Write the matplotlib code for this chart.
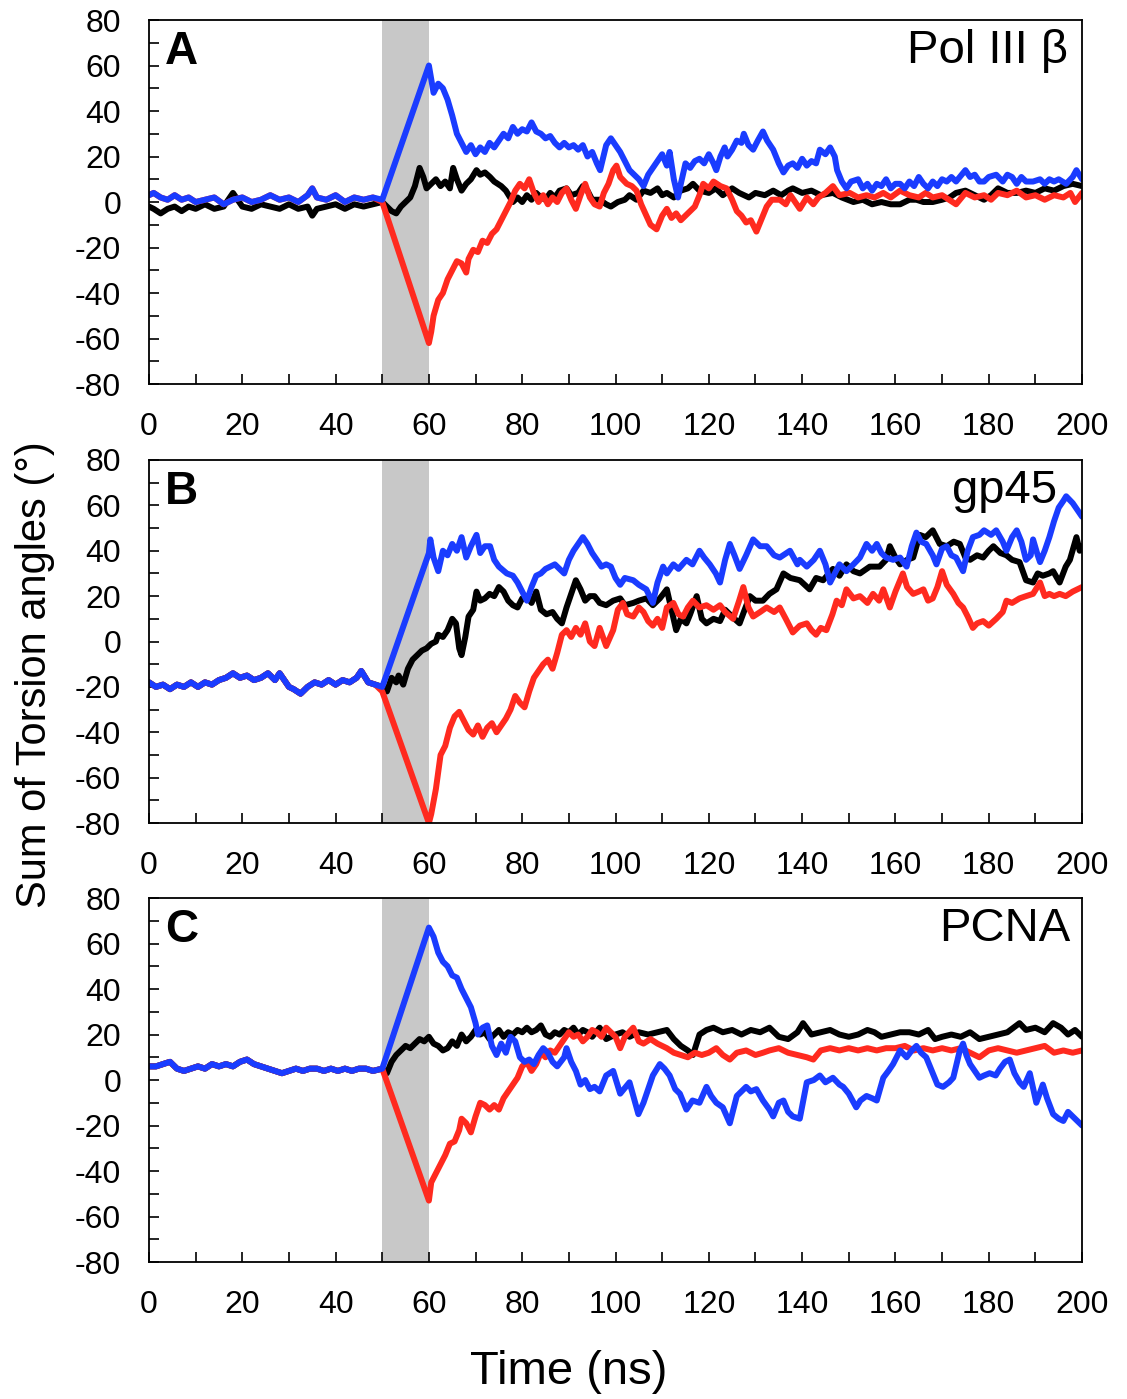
import matplotlib
matplotlib.use("Agg")
import matplotlib.pyplot as plt
from matplotlib.ticker import MultipleLocator

plt.rcParams['font.family'] = ['Liberation Sans', 'DejaVu Sans']
plt.rcParams['axes.unicode_minus'] = False

# --- data (time in ns, sum of torsion angles in degrees) ---
# panel A: Pol III beta
a_pre_t = [0, 1, 2.5, 4, 5.5, 7, 8.5, 10, 12, 14, 16, 18, 20, 22, 24, 26, 28,
           30, 32, 34, 35, 36, 38, 40, 42, 44, 46, 48]
a_pre_col = [3, 4, 2, 1, 3, 1, 2, 0, 1, 2, -1, 1, 2, 0, 1, 3, 1,
             2, 0, 3, 6, 2, 1, 3, 0, 2, 1, 2]
a_pre_black = [-2, -3, -5, -3, -2, -4, -2, -3, -1, -3, -2, 4, -2, -3, -1, -2, -3,
               -1, -3, -2, -6, -3, -2, -1, -3, -1, -2, -1]

a_black_t = [50, 51, 52, 53, 54, 55, 56, 57, 58, 58.8, 59.5, 60.5, 61.5, 62.5, 63.5, 64.5, 65.2,
             66, 67, 68, 69, 70.2, 71, 72, 73.1, 74, 75.5, 76.5, 78, 79, 80, 81, 82, 83, 84, 85,
             86, 87, 88, 89.5, 90.5, 92, 93, 94, 95, 96.6, 98, 99, 100.5, 102, 103, 104.5, 106,
             107.5, 109, 110, 111, 112.5, 114, 115.5, 116.6, 118, 120, 121.5, 123, 125, 126.5,
             128.6, 130, 132, 133.8, 135.5, 137, 138, 140, 142, 144, 146.6, 148.5, 151, 153,
             155, 157, 159, 161, 163, 164.5, 166, 168, 170, 171.6, 173, 175, 177, 179, 180.5,
             182, 184, 186, 188, 190, 192, 194, 196, 198, 200]
a_black_v = [0, -2, -4, -5, -2, 0, 2, 7, 15, 11, 6, 8, 10, 7, 9, 6, 15,
             10, 5, 8, 10, 14, 12, 13, 11, 9, 7, 5, 0, 2, 0, 3, 1, 4, 2, 1,
             4, 2, 5, 6, 3, 4, 7, 5, 1, 1, -1, -2, 0, 1, 3, 1, 5,
             4, 6, 3, 4, 2, 5, 6, 8, 5, 4, 6, 3, 6, 4,
             2, 4, 3, 5, 3, 5, 6, 4, 5, 3, 4, 2, 0, 1,
             -1, 0, -1, -1, 1, 1, 0, 0, 1, 2, 4, 5, 3, 1, 3,
             6, 4, 4, 5, 4, 6, 5, 7, 8, 7]

a_red_t = [50, 60, 60.5, 61, 62, 63, 64, 65, 66, 67, 68, 68.5, 69.5, 70.5, 71.5, 72.5, 73.5,
           74.5, 75.5, 76.5, 77.5, 78.5, 79.5, 80.5, 81.5, 82.5, 83.5, 84.5, 85.5, 86.5, 87.5,
           88.5, 89.5, 90.5, 91.5, 92.5, 93.5, 94.5, 95.5, 96.6, 97.5, 98.5, 99.5, 100.2, 101,
           102.4, 103.5, 104.5, 105.5, 106.6, 107.5, 108.8, 110, 111, 112, 113, 114, 115, 116,
           117, 118, 118.8, 120, 121, 122.5, 123.8, 125, 126, 127, 128, 129, 130.2, 131, 132.4,
           133.5, 135.2, 136.5, 137.5, 138.5, 139.5, 141, 142.4, 143.5, 145, 146.6, 148, 150.2,
           152, 153.8, 155.5, 157.4, 159, 161, 163, 165, 166.5, 168, 170, 171.5, 173, 175, 177,
           179, 180.5, 182, 184, 186, 188, 190, 192, 194, 196, 197.5, 198.5, 200]
a_red_v = [0, -62, -57, -50, -43, -40, -34, -30, -26, -27, -31, -25, -21, -22, -17, -18, -14,
           -12, -8, -4, 0, 5, 8, 6, 10, 4, 0, 3, -1, 2, 0,
           4, 6, 1, -3, 3, 8, 2, -1, -2, 4, 8, 14, 16, 11,
           8, 7, 5, -1, -6, -10, -12, -6, -3, -7, -5, -8, -6, -4,
           -2, 3, 8, 6, 9, 7, 6, 1, -4, -6, -9, -8, -13, -9, -2,
           1, 1, -1, 3, 0, -3, 2, -1, 2, 4, 7, 3, 4,
           2, 3, 2, 4, 2, 5, 3, 2, 4, 2, 3, 1, -1, 4, 2,
           3, 1, 4, 3, 5, 2, 3, 1, 3, 2, 4, 0, 4]

a_blue_t = [50, 60, 61, 62, 63, 64, 65, 66, 67, 68, 69, 70, 71, 72, 73, 74, 75, 76, 77, 78, 79,
            80, 81, 82, 83, 84, 85, 86, 87, 88, 89, 90, 91, 92, 93, 94, 95, 96, 96.7, 98, 99,
            100, 101, 102, 103, 104, 105, 106, 107, 108, 109, 110, 111, 111.6, 112.5, 113.4,
            114, 115, 116, 117, 118, 119, 120, 121, 121.6, 122.5, 123.4, 124, 125, 126, 127,
            127.5, 128.5, 129.5, 130.5, 131.6, 132.5, 133.8, 135, 136, 137, 138, 139, 140, 141,
            142, 143, 143.8, 145, 146, 147, 147.5, 148.5, 149.5, 150.5, 152, 153, 154, 155, 156,
            157, 158, 159, 160, 161, 162, 163, 164, 165, 166, 167, 168, 169, 170, 171, 172, 173,
            175, 176, 177, 178, 179, 180, 181.6, 183, 184, 185, 186, 187, 188, 189.5, 191, 192,
            193, 194, 195, 196.6, 198, 198.8, 200]
a_blue_v = [1, 60, 48, 52, 50, 45, 38, 30, 26, 22, 25, 21, 24, 22, 26, 24, 27, 30, 28, 33, 30,
            32, 31, 35, 31, 30, 28, 29, 26, 24, 26, 24, 25, 23, 25, 20, 22, 17, 14, 25, 28,
            25, 22, 18, 14, 12, 10, 7, 12, 15, 18, 21, 16, 22, 10, 2,
            8, 17, 15, 18, 19, 17, 21, 17, 14, 20, 24, 20, 23, 27, 26,
            30, 25, 23, 27, 31, 27, 23, 17, 13, 16, 17, 15, 19, 16,
            18, 17, 23, 21, 24, 20, 14, 9, 6, 9, 10, 6, 8, 5, 8,
            7, 10, 6, 8, 8, 6, 9, 7, 11, 8, 6, 9, 7, 10, 9, 11, 9,
            14, 11, 12, 9, 9, 11, 12, 9, 12, 11, 8, 11, 9, 9, 10, 8,
            10, 9, 10, 8, 11, 14, 10]

# panel B: gp45 (all three runs share the trace before 50 ns)
b_pre_t = [0, 1.5, 3, 4.5, 6, 7.5, 9, 10.5, 12, 13.5, 15, 16.5, 18, 19.5, 21, 22.5, 24, 25.5,
           27, 28, 29, 30, 31, 32.5, 34, 35.5, 37, 38.5, 40, 41.5, 43, 44.5, 45.5, 47, 48.5]
b_pre_v = [-18, -20, -19, -21, -19, -20, -18, -20, -18, -19, -17, -16, -14, -16, -15, -17, -16, -14,
           -17, -14, -17, -20, -21, -23, -20, -18, -19, -17, -19, -17, -18, -16, -13, -18, -19]

b_black_t = [50, 51, 52, 53, 53.5, 54.5, 55.5, 56.5, 57.5, 58.5, 59.5, 60.5, 61.5, 62, 63, 64, 65,
             65.8, 66.5, 67, 67.8, 68.5, 69.5, 70.2, 71, 72, 73, 74, 75, 76, 77, 78, 79, 80, 81,
             82, 83, 84, 85.2, 86.5, 87.5, 88.5, 89.5, 90.5, 91.5, 92.5, 93.5, 94.5, 95.5, 96.6,
             98, 99.5, 101, 102, 103.8, 105, 106.6, 108, 109.5, 111, 112, 113, 114, 115.2, 116,
             117.4, 118.5, 119.5, 121, 122.4, 123.5, 124.5, 125.5, 126.6, 127.5, 128.8, 130,
             131.6, 133, 134.5, 136, 137.5, 139.5, 141.6, 143, 144.5, 146.6, 148, 149.5, 151,
             152.4, 154.5, 156.6, 158, 158.8, 160, 161, 162.5, 163.8, 165.2, 166.5, 168, 169.5,
             171, 172.5, 173.8, 175, 176, 177.5, 178.8, 180, 181, 182.5, 183.8, 185, 186.6, 188,
             189.5, 190.5, 191.6, 193, 193.8, 195.2, 196.5, 197.4, 198.8, 199.5, 200]
b_black_v = [-20, -22, -16, -18, -15, -19, -12, -8, -6, -4, -3, -1, 0, 3, 2, 5, 10,
             8, -3, -6, 2, 11, 14, 22, 18, 19, 21, 20, 24, 22, 18, 16, 15, 19, 20,
             17, 22, 14, 12, 13, 10, 8, 15, 21, 27, 23, 18, 20, 20, 17,
             16, 18, 19, 16, 17, 18, 19, 16, 19, 23, 14, 5, 10, 8, 12,
             20, 10, 8, 10, 9, 14, 12, 10, 8, 13, 20, 18,
             18, 21, 23, 30, 28, 27, 23, 28, 27, 32, 29, 34, 31,
             30, 33, 33, 36, 42, 37, 34, 36, 37, 47, 46, 49, 43,
             42, 44, 43, 37, 36, 38, 37, 40, 42, 39, 38, 36, 35, 27,
             26, 30, 29, 30, 31, 26, 33, 36, 46, 40, 42]

b_red_t = [50, 60, 60.5, 61.5, 62.5, 63.5, 64.5, 65.5, 66.5, 67.5, 68.5, 69.5, 70.5, 71.5, 72.5,
           73.5, 74.5, 75.5, 76.5, 77.5, 78.5, 79.5, 80.5, 81.5, 82.5, 83.5, 84.5, 85.5, 86.5,
           87.5, 88.5, 89.5, 90.5, 91.5, 92.5, 93.5, 94.5, 95.5, 96.6, 98, 99.5, 100.5, 101.6,
           102.5, 103.8, 105, 106, 107, 108, 109, 110, 111, 112.4, 113.5, 114.5, 115.5, 116.6,
           118, 119.5, 121, 122.4, 123.5, 125.2, 126.5, 127.4, 128.5, 129.5, 131, 132.4, 134,
           135.2, 136.5, 138, 139.5, 141, 142, 143, 144, 145.2, 146.5, 147.4, 148.5, 149.5, 151,
           152.4, 154, 155.2, 156.5, 157.4, 158.8, 160, 161.6, 162.5, 163.8, 165, 166, 167, 168,
           169, 170, 171, 172.4, 173.5, 174.5, 175.5, 176.6, 177.5, 178.8, 180, 181.6, 183,
           183.8, 185, 186.6, 188, 189.5, 191, 192, 193, 194, 195.2, 196.5, 198, 199, 200]
b_red_v = [-22, -80, -76, -65, -50, -46, -38, -33, -31, -35, -39, -41, -37, -42, -38,
           -36, -40, -37, -34, -30, -24, -27, -29, -22, -16, -13, -10, -8, -12,
           -5, 3, 5, 2, 6, 3, 8, 0, -2, 6, -2, 5, 14, 17,
           12, 11, 15, 13, 9, 7, 10, 6, 15, 17, 12, 11, 15, 18,
           15, 16, 14, 16, 13, 10, 18, 24, 15, 11, 13, 15, 13,
           15, 10, 4, 7, 8, 5, 3, 6, 5, 12, 18, 16, 23, 19,
           20, 17, 21, 18, 23, 15, 22, 30, 24, 21, 22, 23, 18, 19,
           24, 31, 25, 21, 17, 15, 11, 6, 8, 9, 7, 10, 13,
           18, 17, 19, 20, 21, 26, 20, 21, 20, 21, 20, 22, 23, 24]

b_blue_t = [50, 60, 60.3, 61, 62, 63, 64, 65, 66, 67, 68, 69, 70.2, 71, 72, 73.1, 74, 75, 76.7,
            78, 79, 80, 81, 82, 83, 84, 85, 86, 87, 88, 89, 90, 91, 92, 93, 94, 95, 96, 97, 98,
            99, 100, 101, 102, 103.8, 105, 106.6, 108, 109, 110.2, 111, 112.4, 113.5, 115.2,
            116.5, 118, 119, 120.2, 121.5, 122.4, 123.5, 124.5, 125.5, 126.6, 128, 129.5, 131,
            132.4, 134, 135.2, 137.4, 139, 139.5, 141, 142.5, 143.8, 145, 146, 147, 148, 149.5,
            151, 152.4, 153.8, 155, 156, 157, 158, 159.5, 161, 162.4, 163.5, 164.5, 165.5, 166.6,
            168, 168.8, 170, 171, 172, 173, 174.5, 175.5, 176.6, 178, 179, 180.5, 181.6, 183,
            183.8, 185, 186, 187, 188, 189, 189.5, 190.5, 191, 192, 193, 194, 195, 196, 196.6,
            198, 199, 200]
b_blue_v = [-20, 39, 45, 37, 31, 40, 38, 43, 40, 46, 37, 42, 47, 39, 42, 42, 36, 33, 30,
            29, 26, 22, 18, 24, 29, 30, 32, 33, 34, 32, 30, 36, 40, 43, 46, 43, 39, 36, 33, 34,
            33, 28, 25, 28, 27, 25, 23, 17, 26, 33, 30, 34, 32, 36,
            34, 40, 37, 34, 30, 26, 36, 43, 38, 32, 38, 45, 42,
            42, 38, 37, 40, 34, 36, 33, 36, 40, 34, 26, 30, 34, 31,
            34, 37, 43, 40, 43, 39, 37, 36, 37, 33, 42, 48, 44, 43,
            38, 34, 41, 42, 38, 37, 31, 40, 46, 47, 49, 47, 49, 44,
            40, 46, 49, 44, 36, 38, 45, 38, 35, 40, 46, 53, 59, 62, 64,
            61, 58, 55]

# panel C: PCNA (all three runs share the trace before 50 ns)
c_pre_t = [0, 1.5, 3, 4.5, 6, 7.5, 9, 10.5, 12, 13.5, 15, 16.5, 18, 19.5, 21, 22.5, 24, 25.5,
           27, 28.5, 30, 31.5, 33, 34.5, 36, 37.5, 39, 40.5, 42, 43.5, 45, 46.5, 48]
c_pre_v = [6, 6, 7, 8, 5, 4, 5, 6, 5, 7, 6, 7, 6, 8, 9, 7, 6, 5,
           4, 3, 4, 5, 4, 5, 5, 4, 5, 4, 5, 4, 5, 5, 4]

c_black_t = [50, 51, 52, 53, 54, 55, 56, 57, 58, 59, 60, 61, 62, 63, 64, 65, 66, 67, 68, 69, 70,
             71, 72, 73, 74, 75, 76, 77, 78, 79, 80, 81, 82, 83, 84, 85, 86, 87, 88, 89, 90, 91,
             92, 93, 94, 95, 96.6, 98, 100, 101.5, 103, 105, 107, 109, 111, 112.5, 114, 115.5,
             116.6, 118, 119.5, 121, 123, 125, 127, 129, 131, 133, 135, 137, 139, 140.2, 142,
             144, 146, 148, 150, 152, 154, 155.5, 157, 159, 161, 163, 165, 167, 168.5, 170, 172,
             174, 176, 178, 180, 182, 184, 186.6, 188, 190, 192, 193.8, 195.5, 197, 198.5, 200]
c_black_v = [5, 3, 8, 11, 13, 15, 14, 16, 18, 17, 19, 16, 15, 13, 14, 17, 15, 20, 17, 19, 22,
             20, 21, 18, 20, 22, 19, 21, 20, 22, 21, 23, 21, 22, 24, 20, 19, 21, 20, 22, 21, 23,
             20, 22, 21, 19, 23, 18, 20, 21, 19, 21, 20, 21, 22, 18, 15, 13,
             11, 20, 22, 23, 21, 22, 20, 22, 21, 23, 19, 18, 21, 25, 20,
             21, 22, 20, 19, 20, 22, 21, 19, 20, 21, 21, 20, 22, 18, 19, 20,
             19, 21, 18, 19, 20, 21, 25, 22, 23, 21, 25, 23, 20, 22, 19]

c_red_t = [50, 60, 60.5, 61.5, 62.5, 63.5, 64.5, 65.5, 66.5, 67, 68, 69, 70, 71, 72, 73, 74, 75,
           76, 77, 78, 79, 80, 81, 82, 83, 84, 85, 86, 87, 88, 89, 90, 91, 92, 93, 94, 95, 96,
           97, 98, 99, 100, 101, 102, 103.8, 105, 106, 107.5, 109, 111, 112.5, 114, 115.5, 117,
           118.5, 120, 121.6, 123, 124.5, 126, 128, 130, 131.6, 133, 135, 137, 139, 141, 142.4,
           144, 146, 148, 150, 152, 154, 156, 158, 160, 162, 164, 166, 168, 170, 172, 174, 176,
           178, 180, 182, 184, 186, 188, 190, 192, 194, 196, 198, 200]
c_red_v = [5, -53, -45, -41, -37, -33, -28, -27, -22, -17, -19, -23, -16, -10, -11, -13, -11, -13,
           -8, -5, -2, 1, 6, 8, 4, 7, 12, 10, 13, 12, 15, 18, 21, 19, 20, 17, 19, 22, 21,
           19, 23, 21, 19, 14, 19, 23, 17, 16, 18, 16, 14, 12, 11, 10, 12,
           11, 12, 14, 11, 9, 12, 13, 11, 12, 13, 14, 12, 11, 10, 9,
           13, 14, 13, 14, 13, 14, 13, 14, 14, 15, 13, 14, 13, 14, 13, 14, 12,
           10, 13, 14, 13, 12, 13, 14, 15, 12, 13, 12, 13]

c_blue_t = [50, 60, 61, 62, 63, 64, 65, 66, 67, 68, 69, 70, 70.5, 71.5, 72.5, 73.5, 74.5, 75.5,
            76.5, 77.5, 78.5, 79.5, 80.5, 81.5, 82.5, 83.5, 84.5, 85.5, 86.5, 87.5, 89, 89.5,
            90.5, 91.5, 92.5, 93.5, 94.5, 95.5, 96.6, 98, 99.5, 101, 103, 104.9, 106, 108, 109.5,
            110.5, 111.6, 112.8, 113.8, 115.2, 116.5, 118, 119.5, 120.5, 121.6, 123, 124.5, 126,
            127, 128, 129, 130.2, 131.6, 133, 133.8, 135, 136, 137, 138, 139.5, 141, 142.5,
            143.8, 145, 146.6, 148, 148.8, 150, 151.6, 152.5, 153.8, 155, 156, 157.4, 158.5,
            159.5, 161, 162.4, 163.5, 164.5, 165.5, 166.6, 168, 169, 170.2, 171.5, 172.4, 173.8,
            174.5, 175.2, 176, 177, 178, 179, 180.2, 181.5, 182.4, 183.5, 184.5, 185.5, 186.6,
            187.5, 188.8, 190.2, 191.6, 192.5, 193.8, 195, 196, 197, 198, 199, 200]
c_blue_v = [5, 67, 63, 56, 52, 50, 46, 45, 40, 36, 32, 25, 20, 23, 24, 15, 11, 16,
            12, 19, 17, 10, 8, 9, 7, 11, 14, 12, 8, 6, 10, 14,
            8, 4, -2, 0, -4, -3, -5, 2, 4, -6, -1, -15, -10, 2, 7,
            5, 2, -4, -6, -13, -9, -10, -3, -7, -10, -12, -19, -7,
            -5, -3, -5, -4, -9, -13, -16, -10, -9, -14, -16, -17, -1, 0,
            2, -1, 1, -2, -3, -6, -12, -9, -7, -8, -9, 1, 4,
            7, 13, 10, 13, 15, 12, 10, 3, -2, -3, -1, 1, 13,
            16, 11, 7, 4, 1, 2, 3, 2, 5, 8, 9, 3, -1,
            -3, 3, -10, -2, -8, -15, -17, -18, -14, -16, -18, -20]

panel_letters = ['A', 'B', 'C']
panel_names = ['Pol III \u03b2', 'gp45', 'PCNA']
x_ticks = [0, 20, 40, 60, 80, 100, 120, 140, 160, 180, 200]
y_ticks = [-80, -60, -40, -20, 0, 20, 40, 60, 80]

BLACK = '#000000'
RED = '#ff2a1f'
BLUE = '#1a3cff'


def panel_series(pre_t, pre_black, pre_col, black, red, blue):
    """Join the shared pre-50 ns trace to each run."""
    out = []
    for (t, v), pre_v in ((black, pre_black), (red, pre_col), (blue, pre_col)):
        out.append((list(pre_t) + list(t), list(pre_v) + list(v)))
    return out


panels = [
    panel_series(a_pre_t, a_pre_black, a_pre_col,
                 (a_black_t, a_black_v), (a_red_t, a_red_v), (a_blue_t, a_blue_v)),
    panel_series(b_pre_t, b_pre_v, b_pre_v,
                 (b_black_t, b_black_v), (b_red_t, b_red_v), (b_blue_t, b_blue_v)),
    panel_series(c_pre_t, c_pre_v, c_pre_v,
                 (c_black_t, c_black_v), (c_red_t, c_red_v), (c_blue_t, c_blue_v)),
]

fig = plt.figure(figsize=(11.27, 13.99), dpi=100)

# axes boxes in figure fractions (left, bottom, width, height)
boxes = [(0.1322, 0.7255, 0.8279, 0.2602),
         (0.1322, 0.4117, 0.8279, 0.2595),
         (0.1322, 0.0979, 0.8279, 0.2602)]
name_x = [0.985, 0.973, 0.987]
name_y = [0.975, 0.975, 0.975]

for i, box in enumerate(boxes):
    ax = fig.add_axes(box)
    ax.axvspan(50, 60, color='#c8c8c8', lw=0, zorder=0)
    for (t, v), col in zip(panels[i], [BLACK, RED, BLUE]):
        ax.plot(t, v, color=col, lw=4.3, solid_joinstyle='round',
                solid_capstyle='round', zorder=2)
    ax.set_xlim(0, 200)
    ax.set_ylim(-80, 80)
    ax.set_xticks(x_ticks)
    ax.set_yticks(y_ticks)
    ax.xaxis.set_minor_locator(MultipleLocator(10))
    ax.yaxis.set_minor_locator(MultipleLocator(10))
    ax.tick_params(which='both', direction='in', length=7, width=1.2,
                   top=False, right=False, labelsize=23)
    ax.tick_params(axis='x', pad=20)
    ax.tick_params(axis='y', pad=20)
    for sp in ax.spines.values():
        sp.set_linewidth(1.3)
    ax.text(0.017, 0.972, panel_letters[i], transform=ax.transAxes,
            fontsize=33, fontweight='bold', ha='left', va='top')
    ax.text(name_x[i], name_y[i], panel_names[i], transform=ax.transAxes,
            fontsize=34, ha='right', va='top')

fig.text(0.031, 0.5175, 'Sum of Torsion angles (\u00b0)', rotation=90,
         fontsize=30, ha='center', va='center')
fig.text(0.505, 0.0193, 'Time (ns)', fontsize=34, ha='center', va='center')

fig.savefig('out.png', dpi=100)
